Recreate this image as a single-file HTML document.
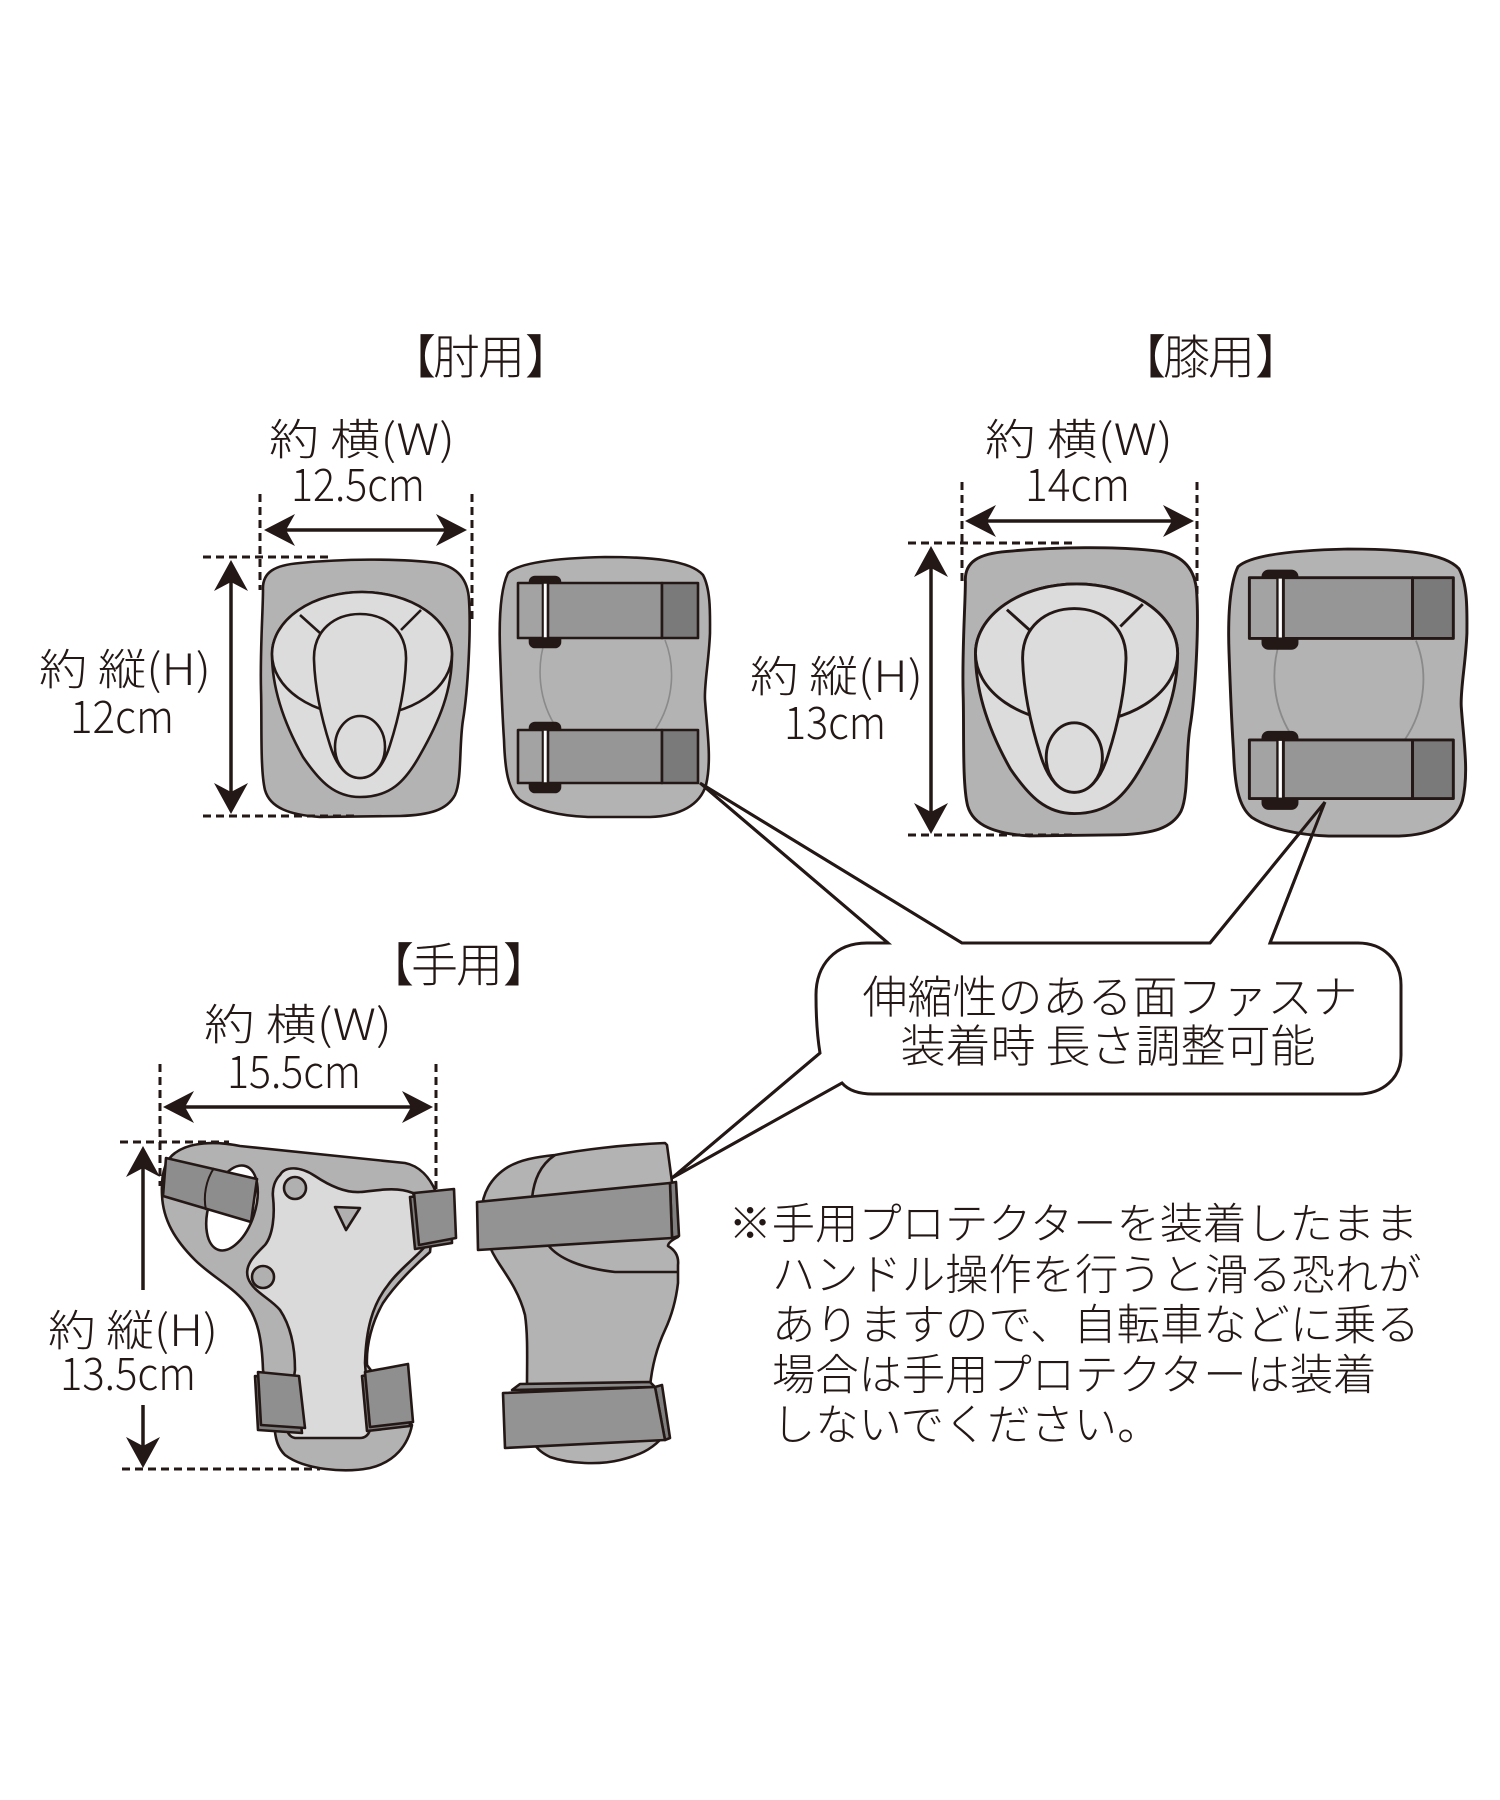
<!DOCTYPE html>
<html><head><meta charset="utf-8">
<style>
html,body{margin:0;padding:0;background:#fff;}
svg{display:block;}
text{font-family:"Liberation Sans","Noto Sans CJK JP",sans-serif;fill:#231815;font-weight:300;}
.jp{font-family:"Noto Sans CJK JP",sans-serif;font-weight:300;}
</style></head>
<body>
<svg width="1500" height="1800" viewBox="0 0 1500 1800" xmlns="http://www.w3.org/2000/svg">
<defs>
  <g id="elbowFront" stroke="#231815" stroke-width="2.6" stroke-linejoin="round">
    <path fill="#b3b3b3" d="M 263,590 C 262,572 275,565 300,563 C 340,559 400,558 437,563 C 458,567 468,580 469,600 C 471,630 468,690 463,720 C 459,745 462,780 455,795 C 447,810 430,815 400,816 L 320,817 C 290,815 270,808 265,790 C 260,770 262,720 261,690 C 260,650 263,610 263,590 Z"/>
    <path fill="#dcdcdc" d="M 272,654 A 90,62 0 0 1 452,654 C 452,690 440,720 420,755 C 405,782 390,797 360,797 C 335,797 320,782 303,757 C 285,725 272,690 272,654 Z"/>
    <ellipse cx="362" cy="654" rx="90" ry="62" fill="#dcdcdc"/>
    <path fill="#dcdcdc" d="M 360,614 C 385,614 407,630 406,660 C 405,690 398,720 390,745 C 383,768 372,778 360,778 C 348,778 337,768 330,745 C 322,720 315,690 314,660 C 313,630 335,614 360,614 Z"/>
    <ellipse cx="360" cy="747" rx="25" ry="31" fill="#dcdcdc"/>
    <path fill="none" d="M 300,615 L 320,633 M 421,610 L 401,630"/>
  </g>
  <g id="elbowBack" stroke="#231815" stroke-width="2.6" stroke-linejoin="round">
    <path fill="#b3b3b3" d="M 508,573 C 520,562 560,558 605,557 C 650,557 690,560 703,575 C 711,590 710,615 710,633 C 709,660 704,685 705,700 C 707,730 712,760 706,785 C 700,805 680,816 650,817 L 588,817 C 560,816 535,810 520,800 C 508,790 505,770 504,740 C 502,710 501,680 500,650 C 499,620 500,590 508,573 Z"/>
    <path fill="none" stroke="#8a8a8a" stroke-width="1.6" d="M 545,640 C 537,665 537,700 558,730 M 665,640 C 675,665 675,700 655,730"/>
    <rect x="530" y="577" width="30" height="70" rx="5" fill="#231815"/>
    <rect x="518" y="583" width="25" height="55" fill="#a3a3a3"/>
    <rect x="543" y="583" width="5" height="55" fill="#ffffff" stroke-width="1.6"/>
    <rect x="548" y="583" width="114" height="55" fill="#969696"/>
    <rect x="662" y="583" width="36" height="55" fill="#7a7a7a"/>
    <rect x="530" y="723" width="30" height="69" rx="5" fill="#231815"/>
    <rect x="518" y="730" width="25" height="53" fill="#a3a3a3"/>
    <rect x="543" y="730" width="5" height="53" fill="#ffffff" stroke-width="1.6"/>
    <rect x="548" y="730" width="114" height="53" fill="#969696"/>
    <rect x="662" y="730" width="36" height="53" fill="#7a7a7a"/>
  </g>
</defs>

<path fill="#ffffff" stroke="#231815" stroke-width="3" stroke-linejoin="miter"
 d="M 867,943 L 888,943 L 700,783 L 962,943 L 1210,943 L 1325,802 L 1270,943 L 1358,943 C 1383,943 1401,960 1401,985 L 1401,1055 C 1401,1078 1383,1094 1358,1094 L 873,1094 C 858,1094 848,1090 842,1083 L 672,1178 L 820,1053 C 817,1035 816,1015 816,995 C 816,965 835,943 867,943 Z"/>

<use href="#elbowFront"/>
<use href="#elbowBack"/>
<use href="#elbowFront" transform="translate(962,547) scale(1.123,1.12) translate(-260,-559)"/>
<use href="#elbowBack" transform="translate(1229,549) scale(1.133,1.104) translate(-500,-557)"/>

<g stroke="#231815" stroke-width="2.6" stroke-linejoin="round">
  <path fill="#b2b2b2" d="M 175,1153 C 190,1142 215,1141 240,1146 L 405,1163 C 420,1166 430,1178 436,1192 L 430,1252 C 415,1265 395,1285 383,1303 C 372,1322 366,1345 367,1365 L 412,1425 C 408,1445 395,1462 370,1468 C 345,1473 305,1470 285,1455 C 278,1448 276,1440 275,1432 L 263,1370 C 262,1340 258,1318 245,1302 C 230,1285 210,1275 195,1260 C 175,1240 163,1220 162,1195 C 161,1175 165,1160 175,1153 Z"/>
  <path fill="#dadada" d="M 280,1175 C 285,1166 300,1166 315,1176 C 330,1186 345,1193 360,1192 C 375,1191 395,1186 413,1193 L 430,1240 C 420,1255 400,1268 388,1285 C 372,1305 366,1330 365,1363 L 370,1430 C 368,1436 364,1438 360,1438 L 295,1438 C 290,1437 287,1433 287,1428 L 295,1370 C 295,1345 290,1325 280,1310 C 270,1298 253,1292 248,1278 C 244,1265 255,1255 265,1245 C 273,1235 275,1215 273,1197 C 272,1188 275,1180 280,1175 Z"/>
  <ellipse cx="232" cy="1208" rx="23" ry="44" transform="rotate(18 232 1208)" fill="#ffffff"/>
  <path fill="#8d8d8d" d="M 166,1158 L 257,1179 L 251,1222 L 163,1196 Z"/>
  <path fill="none" stroke-width="2" d="M 214,1168 C 206,1180 203,1196 206,1210"/>
  <circle cx="295" cy="1188" r="11" fill="#b0b0b0"/>
  <circle cx="263" cy="1277" r="11" fill="#b0b0b0"/>
  <path fill="#b0b0b0" d="M 335,1207 L 360,1208 L 346,1230 Z"/>
  <path fill="#7d7d7d" d="M 410,1197 L 450,1193 L 452,1243 L 415,1249 Z"/>
  <path fill="#8f8f8f" d="M 414,1193 L 454,1189 L 456,1238 L 419,1245 Z"/>
  <path fill="#7d7d7d" d="M 255,1376 L 296,1380 L 302,1433 L 258,1430 Z"/>
  <path fill="#8f8f8f" d="M 258,1372 L 299,1376 L 305,1428 L 261,1425 Z"/>
  <path fill="#7d7d7d" d="M 362,1376 L 405,1368 L 410,1426 L 367,1431 Z"/>
  <path fill="#8f8f8f" d="M 365,1372 L 408,1364 L 413,1422 L 370,1427 Z"/>
</g>

<g stroke="#231815" stroke-width="2.6" stroke-linejoin="round">
  <path fill="#b3b3b3" d="M 555,1155 C 580,1150 620,1145 665,1143 L 667,1145 L 672,1182 L 678,1237 C 672,1240 668,1243 668,1246 C 675,1250 679,1256 678,1265 L 678,1283 C 676,1300 672,1315 665,1330 C 658,1345 652,1365 650,1387 L 660,1440 C 650,1450 640,1455 620,1460 C 600,1465 570,1464 550,1457 C 540,1452 535,1447 533,1440 L 527,1387 C 527,1360 528,1335 525,1315 C 520,1295 510,1280 500,1265 C 490,1250 483,1235 482,1210 C 482,1195 490,1178 508,1167 C 520,1160 535,1157 555,1155 Z"/>
  <path fill="none" d="M 555,1155 C 540,1165 534,1180 532,1198 M 548,1245 C 558,1258 580,1268 615,1272 L 677,1272"/>
  <path fill="#7f7f7f" d="M 670,1183 L 676,1182 L 679,1236 L 672,1238 Z"/>
  <path fill="#939393" d="M 477,1202 L 670,1183 L 672,1238 L 478,1250 Z"/>
  <path fill="#8a8a8a" d="M 512,1390 L 520,1384 L 650,1382 L 655,1387 Z"/>
  <path fill="#7f7f7f" d="M 655,1387 L 662,1385 L 670,1438 L 665,1440 Z"/>
  <path fill="#939393" d="M 503,1393 L 655,1387 L 665,1440 L 505,1448 Z"/>
</g>

<path fill="none" stroke="#231815" stroke-width="3" d="M 700,783 L 888,943 M 700,783 L 962,943 M 1325,802 L 1210,943 M 1325,802 L 1270,943 M 672,1178 L 820,1053 M 672,1178 L 842,1083"/>

<g stroke="#231815" stroke-width="3" fill="none" stroke-dasharray="8,5">
  <path d="M 260,494 L 260,590 M 472,494 L 472,622 M 203,557 L 330,557 M 203,816 L 357,816"/>
  <path d="M 962,482 L 962,583 M 1197,482 L 1197,594 M 908,543 L 1073,543 M 908,835 L 1073,835"/>
  <path d="M 160,1064 L 160,1186 M 436,1064 L 436,1194 M 120,1142 L 229,1142 M 122,1469 L 320,1469"/>
</g>
<g stroke="#231815" stroke-width="3.5" fill="none">
  <path d="M 282,530 L 449,530 M 231,578 L 231,796"/>
  <path d="M 983,521 L 1176,521 M 931,564 L 931,816"/>
  <path d="M 181,1107 L 415,1107 M 143,1164 L 143,1290 M 143,1405 L 143,1450"/>
</g>
<g fill="#231815">
  <path d="M 264,530 L 295,514 L 286,530 L 295,546 Z"/>
  <path d="M 467,530 L 436,514 L 445,530 L 436,546 Z"/>
  <path d="M 231,560 L 214,591 L 231,582 L 248,591 Z"/>
  <path d="M 231,814 L 214,783 L 231,792 L 248,783 Z"/>
  <path d="M 965,521 L 996,505 L 987,521 L 996,537 Z"/>
  <path d="M 1194,521 L 1163,505 L 1172,521 L 1163,537 Z"/>
  <path d="M 931,546 L 914,577 L 931,568 L 948,577 Z"/>
  <path d="M 931,834 L 914,803 L 931,812 L 948,803 Z"/>
  <path d="M 163,1107 L 194,1091 L 185,1107 L 194,1123 Z"/>
  <path d="M 433,1107 L 402,1091 L 411,1107 L 402,1123 Z"/>
  <path d="M 143,1146 L 126,1177 L 143,1168 L 160,1177 Z"/>
  <path d="M 143,1468 L 126,1437 L 143,1446 L 160,1437 Z"/>
</g>

<g font-size="47">
  <text x="436" y="374" text-anchor="end" class="jp">【</text>
  <text x="433" y="374" class="jp">肘</text>
  <text x="478" y="374" class="jp">用</text>
  <text x="525" y="374" class="jp">】</text>

  <text x="1166" y="374" text-anchor="end" class="jp">【</text>
  <text x="1163" y="374" class="jp">膝</text>
  <text x="1208" y="374" class="jp">用</text>
  <text x="1255" y="374" class="jp">】</text>

  <text x="414" y="982" text-anchor="end" class="jp">【</text>
  <text x="411" y="982" class="jp">手</text>
  <text x="456" y="982" class="jp">用</text>
  <text x="503" y="982" class="jp">】</text>
</g>

<g font-size="43">
  <text class="jp" x="269" y="455" textLength="186" lengthAdjust="spacingAndGlyphs">約 横(W)</text>
  <text class="jp" x="291" y="501" font-size="45" textLength="134" lengthAdjust="spacingAndGlyphs">12.5cm</text>
  <text class="jp" x="39" y="685" textLength="172" lengthAdjust="spacingAndGlyphs">約 縦(H)</text>
  <text class="jp" x="70" y="733" font-size="45" textLength="104" lengthAdjust="spacingAndGlyphs">12cm</text>

  <text class="jp" x="985" y="455" textLength="188" lengthAdjust="spacingAndGlyphs">約 横(W)</text>
  <text class="jp" x="1025" y="501" font-size="45" textLength="105" lengthAdjust="spacingAndGlyphs">14cm</text>
  <text class="jp" x="750" y="692" textLength="173" lengthAdjust="spacingAndGlyphs">約 縦(H)</text>
  <text class="jp" x="784" y="739" font-size="45" textLength="102" lengthAdjust="spacingAndGlyphs">13cm</text>

  <text class="jp" x="204" y="1040" textLength="188" lengthAdjust="spacingAndGlyphs">約 横(W)</text>
  <text class="jp" x="227" y="1088" font-size="45" textLength="134" lengthAdjust="spacingAndGlyphs">15.5cm</text>
  <text class="jp" x="48" y="1346" textLength="170" lengthAdjust="spacingAndGlyphs">約 縦(H)</text>
  <text class="jp" x="60" y="1390" font-size="45" textLength="136" lengthAdjust="spacingAndGlyphs">13.5cm</text>
</g>

<g font-size="45">
  <text x="1110" y="1013" text-anchor="middle" class="jp">伸縮性のある面ファスナ</text>
  <text x="1108" y="1062" text-anchor="middle" class="jp">装着時 長さ調整可能</text>
</g>

<g font-size="43.3">
  <text x="728.5" y="1239" class="jp">※手用プロテクターを装着したまま</text>
  <text x="772" y="1290" class="jp">ハンドル操作を行うと滑る恐れが</text>
  <text x="772" y="1340" class="jp">ありますので、自転車などに乗る</text>
  <text x="772" y="1390" class="jp">場合は手用プロテクターは装着</text>
  <text x="772" y="1440" class="jp">しないでください。</text>
</g>
</svg>
</body></html>
